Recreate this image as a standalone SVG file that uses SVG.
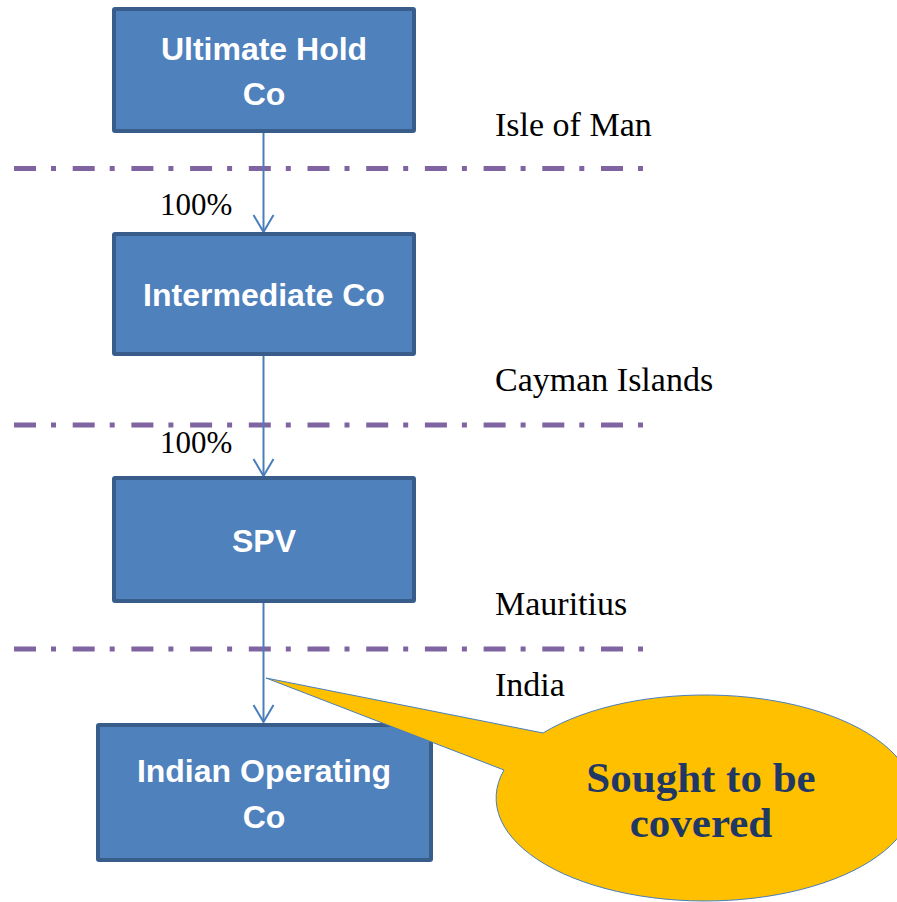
<svg xmlns="http://www.w3.org/2000/svg" width="897" height="902" viewBox="0 0 897 902">
<defs>
<style>
.box{fill:#4f81bd;stroke:#385d8a;stroke-width:4}
.bt{font-family:"Liberation Sans",Arial,sans-serif;font-weight:bold;font-size:32px;fill:#fff;text-anchor:middle}
.lbl{font-family:"Liberation Serif","Times New Roman",serif;font-size:34px;fill:#000}
.pct{font-family:"Liberation Serif","Times New Roman",serif;font-size:31px;fill:#000}
.sep{stroke:#8064a2;stroke-width:5;stroke-dasharray:22 15 5 16.7;fill:none}
.con{stroke:#4a7ebb;stroke-width:2;fill:none}
.ct{font-family:"Liberation Serif","Times New Roman",serif;font-weight:bold;font-size:43px;fill:#1f3864;text-anchor:middle}
</style>
</defs>
<g id="separators">
<line class="sep" x1="14" y1="168.5" x2="643" y2="168.5"/>
<line class="sep" x1="14" y1="425" x2="643" y2="425"/>
<line class="sep" x1="14" y1="649" x2="643" y2="649"/>
</g>
<g id="labels">
<text class="lbl" x="495" y="136">Isle of Man</text>
<text class="lbl" x="495" y="391">Cayman Islands</text>
<text class="lbl" x="495" y="615">Mauritius</text>
<text class="lbl" x="495" y="696">India</text>
<text class="pct" x="160" y="215">100%</text>
<text class="pct" x="160" y="453">100%</text>
</g>
<g id="connectors">
<path class="con" d="M263.5,133 V232"/>
<path class="con" d="M253.5,215 L263.5,232 L273.5,215"/>
<path class="con" d="M263.5,356 V476"/>
<path class="con" d="M253.5,459 L263.5,476 L273.5,459"/>
<path class="con" d="M263.5,603 V722"/>
<path class="con" d="M253.5,705 L263.5,722 L273.5,705"/>
</g>
<g id="ultimate-hold-co">
<rect class="box" x="114" y="9" width="300" height="122" rx="1"/>
<text class="bt" x="264" y="60">Ultimate Hold</text>
<text class="bt" x="264" y="105">Co</text>
</g>
<g id="intermediate-co">
<rect class="box" x="114" y="234" width="300" height="120" rx="1"/>
<text class="bt" x="264" y="306">Intermediate Co</text>
</g>
<g id="spv">
<rect class="box" x="114" y="478" width="300" height="123" rx="1"/>
<text class="bt" x="264" y="552">SPV</text>
</g>
<g id="indian-operating-co">
<rect class="box" x="98" y="725" width="333" height="135" rx="1"/>
<text class="bt" x="264" y="782">Indian Operating</text>
<text class="bt" x="264" y="828">Co</text>
</g>
<g id="callout">
<path d="M266,678 L543,733 A209,103 0 1 1 504,770 Z" fill="#ffc000" stroke="#4a7ebb" stroke-width="1"/>
<text class="ct" x="701" y="792">Sought to be</text>
<text class="ct" x="701" y="837">covered</text>
</g>
</svg>
